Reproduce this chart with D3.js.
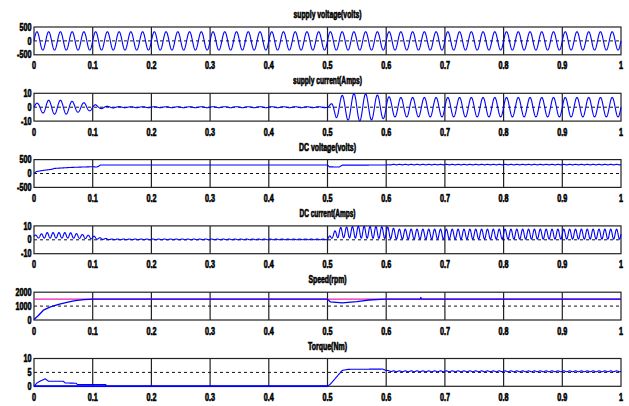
<!DOCTYPE html>
<html><head><meta charset="utf-8">
<script src="https://cdn.jsdelivr.net/npm/d3@7"></script>
<style>
body{margin:0;background:#fff;}
svg text{font-family:"Liberation Sans",Arial,sans-serif;font-weight:bold;fill:#000;stroke:#000;stroke-width:0.6px;}
</style></head><body>
<svg id="c" width="629" height="406"></svg>
<script>
// ---------- DATA ----------
const xTicks = [0,0.1,0.2,0.3,0.4,0.5,0.6,0.7,0.8,0.9,1];
const xTickLabels = ["0","0.1","0.2","0.3","0.4","0.5","0.6","0.7","0.8","0.9","1"];
const titles = ["supply voltage(volts)","supply current(Amps)","DC voltage(volts)","DC current(Amps)","Speed(rpm)","Torque(Nm)"];
const yDomains = [[-500,500],[-10,10],[-500,500],[-10,10],[0,2000],[0,10]];
const yTicks = [[-500,0,500],[-10,0,10],[-500,0,500],[-10,0,10],[0,1000,2000],[0,5,10]];
const yTickLabels = [["-500","0","500"],["-10","0","10"],["-500","0","500"],["-10","0","10"],["0","1000","2000"],["0","5","10"]];
const dashedLevels = [0,0,0,0,1000,5];

// supply voltage: 50 Hz, envelope knots [t, value]
const supplyFreq = 50;
const supplyVoltageMean = [[0,0],[1,0]];
const supplyVoltageAmp = [[0,330],[1,330]];

// supply current: 50 Hz, envelope knots
const supplyCurrentMean = [[0,0],[1,0]];
const supplyCurrentAmp = [[0,2.5],[0.01,3.3],[0.02,5],[0.055,5],[0.07,3.8],[0.09,3],[0.1,2.2],[0.11,1.2],[0.125,0.6],[0.15,0.35],[0.5,0.35],[0.505,2],[0.515,7.5],[0.53,9],[0.55,10],[0.58,9],[0.6,8],[0.61,7],[1,7]];

// DC voltage: level knots + 100 Hz ripple
const dcFreq = 100;
const dcVoltageMean = [[0,0],[0.004,70],[0.015,110],[0.03,150],[0.035,183],[0.06,215],[0.065,220],[0.1,244],[0.107,232],[0.11,260],[0.113,305],[0.5,305],[0.503,240],[0.52,232],[0.525,300],[0.6,305],[0.61,320],[1,320]];
const dcVoltageAmp = [[0,0],[0.6,0],[0.61,10],[1,10]];

// DC current: mean + 100 Hz ripple amplitude
const dcCurrentMean = [[0,2.4],[0.01,2.6],[0.02,3.2],[0.06,3.2],[0.08,2.5],[0.1,1.8],[0.11,1],[0.13,0.3],[0.5,0.3],[0.505,2.5],[0.52,5.2],[0.55,5.5],[0.6,5.2],[0.62,4.1],[1,4.1]];
const dcCurrentAmp = [[0,0.8],[0.02,2],[0.06,2],[0.08,1.5],[0.1,1.1],[0.11,0.6],[0.13,0.25],[0.5,0.25],[0.505,1.5],[0.52,3.6],[0.55,4.3],[0.6,4.2],[0.62,3.6],[1,3.6]];

// speed
const speedRef = [[0,1500],[1,1500]];
const speed = [[0,40],[0.007,306],[0.016,706],[0.028,941],[0.042,1130],[0.056,1270],[0.07,1388],[0.085,1459],[0.1,1495],[0.11,1500],[0.5,1500],[0.505,1300],[0.52,1255],[0.525,1230],[0.54,1290],[0.55,1320],[0.56,1380],[0.57,1440],[0.59,1480],[0.6,1495],[0.61,1500],[0.658,1500],[0.659,1620],[0.66,1500],[1,1500]];

// torque: electromagnetic torque knots + ripple, and load torque
const torqueMean = [[0,0],[0.005,1.2],[0.01,1.8],[0.019,2.7],[0.025,1.8],[0.05,1.8],[0.053,1.2],[0.072,1.1],[0.074,0.6],[0.1225,0.6],[0.123,0],[0.5,0],[0.505,0.8],[0.525,5.7],[0.535,6.1],[0.594,6.2],[0.6,5.7],[0.61,5.4],[1,5.4]];
const torqueAmp = [[0,0],[0.6,0],[0.61,0.15],[1,0.15]];
const loadTorque = [[0,0],[0.5,0]];

// ---------- DRAWING ----------
const svg = d3.select("#c");
const X0 = 34, X1 = 621, TOP0 = 27, PITCH = 66.3, PH = 27.8;
const titleWidths = [68,69,57,56,38,39];
const BLUE = "#0000ff", MAG = "#f01cb4";
const x = d3.scaleLinear().domain([0,1]).range([X0,X1]);

function envAt(env,t){
  if(t<=env[0][0]) return env[0][1];
  for(let i=1;i<env.length;i++){
    if(t<=env[i][0]){const a=env[i-1],b=env[i];const u=b[0]===a[0]?1:(t-a[0])/(b[0]-a[0]);return a[1]+u*(b[1]-a[1]);}
  }
  return env[env.length-1][1];
}
function wave(meanEnv,ampEnv,freq){
  const pts=[];const n=2500;
  const knots=new Set(meanEnv.map(d=>d[0]));
  for(let i=0;i<=n;i++){const t=i/n;pts.push(t);}
  knots.forEach(k=>pts.push(k));
  pts.sort((a,b)=>a-b);
  return pts.map(t=>[t,envAt(meanEnv,t)+envAt(ampEnv,t)*Math.sin(2*Math.PI*freq*t)]);
}

const panels = [
  {series:[{pts:wave(supplyVoltageMean,supplyVoltageAmp,supplyFreq),color:BLUE,w:1.1}]},
  {series:[{pts:wave(supplyCurrentMean,supplyCurrentAmp,supplyFreq),color:BLUE,w:1.1}]},
  {series:[{pts:wave(dcVoltageMean,dcVoltageAmp,dcFreq),color:BLUE,w:1.1}]},
  {series:[{pts:wave(dcCurrentMean,dcCurrentAmp,dcFreq),color:BLUE,w:1.1}]},
  {series:[{pts:speedRef,color:MAG,w:1.3},{pts:speed,color:BLUE,w:1.3}]},
  {series:[{pts:loadTorque,color:BLUE,w:2},{pts:wave(torqueMean,torqueAmp,dcFreq),color:BLUE,w:1.1}]}
];

function squeeze(sel,k){sel.each(function(){const L=this.getComputedTextLength();d3.select(this).attr("textLength",L*k).attr("lengthAdjust","spacingAndGlyphs");});}

const defs = svg.append("defs");

panels.forEach((p,i)=>{
  const top = TOP0 + PITCH*i, bot = top + PH;
  const y = d3.scaleLinear().domain(yDomains[i]).range([bot,top]);
  const g = svg.append("g");
  defs.append("clipPath").attr("id","clip"+i).append("rect")
    .attr("x",X0-1).attr("y",top-1).attr("width",X1-X0+2).attr("height",PH+2);

  // vertical grid lines
  g.selectAll("line.vg").data(xTicks.slice(1,-1)).join("line")
    .attr("x1",d=>x(d)).attr("x2",d=>x(d)).attr("y1",top).attr("y2",bot)
    .attr("stroke","#222").attr("stroke-width",1.2);
  // dashed level line
  g.append("line").attr("x1",X0).attr("x2",X1).attr("y1",y(dashedLevels[i])).attr("y2",y(dashedLevels[i]))
    .attr("stroke","#111").attr("stroke-width",1).attr("stroke-dasharray","3,3");
  // box
  g.append("rect").attr("x",X0).attr("y",top).attr("width",X1-X0).attr("height",PH)
    .attr("fill","none").attr("stroke","#222").attr("stroke-width",1.2);

  // data
  const line = d3.line().x(d=>x(d[0])).y(d=>y(d[1]));
  const dg = g.append("g").attr("clip-path","url(#clip"+i+")");
  p.series.forEach(s=>{
    dg.append("path").attr("d",line(s.pts)).attr("fill","none")
      .attr("stroke",s.color).attr("stroke-width",s.w).attr("stroke-linejoin","round");
  });

  // title
  g.append("text").attr("x",(X0+X1)/2).attr("y",top-9).attr("text-anchor","middle")
    .attr("font-size",10).text(titles[i])
    .attr("textLength",titleWidths[i]).attr("lengthAdjust","spacingAndGlyphs");

  // x tick labels
  const xl = g.selectAll("text.xl").data(xTicks).join("text").attr("class","xl")
    .attr("x",d=>x(d)).attr("y",bot+14.5).attr("text-anchor","middle").attr("font-size",10)
    .text((d,j)=>xTickLabels[j]);
  squeeze(xl,0.72);
  // y tick labels
  const yl = g.selectAll("text.yl").data(yTicks[i]).join("text").attr("class","yl")
    .attr("x",31.5).attr("y",d=>y(d)).attr("dy","0.36em").attr("text-anchor","end").attr("font-size",10)
    .text((d,j)=>yTickLabels[i][j]);
  squeeze(yl,0.72);
});
</script>
</body></html>
